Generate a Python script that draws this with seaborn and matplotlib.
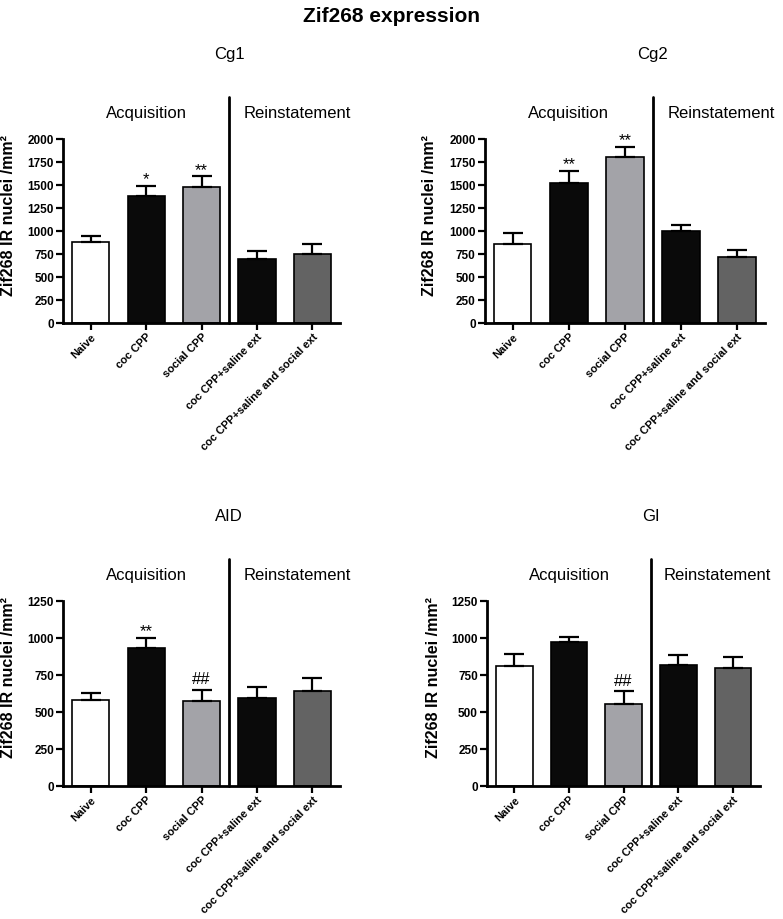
import numpy as np
import seaborn as sns
import matplotlib.pyplot as plt

sns.set_style("ticks")
plt.rcParams['font.family'] = ['Liberation Sans', 'DejaVu Sans']
plt.rcParams['text.color'] = 'black'
plt.rcParams['axes.labelcolor'] = 'black'
plt.rcParams['xtick.color'] = 'black'
plt.rcParams['ytick.color'] = 'black'

# groups and bar colours (same for all four regions)
groups = ["Naive", "coc CPP", "social CPP", "coc CPP+saline ext",
          "coc CPP+saline and social ext"]
bar_colors = ["#ffffff", "#0a0a0a", "#a3a3a8", "#0a0a0a", "#636363"]

# mean and SEM
cg1_mean = [879, 1381, 1483, 698, 749]
cg1_sem = [69, 113, 115, 87, 112]
cg1_marks = ["", "*", "**", "", ""]

cg2_mean = [861, 1526, 1805, 1005, 716]
cg2_sem = [123, 130, 115, 65, 83]
cg2_marks = ["", "**", "**", "", ""]

aid_mean = [585, 935, 577, 597, 646]
aid_sem = [46, 69, 74, 76, 88]
aid_marks = ["", "**", "##", "", ""]

gi_mean = [811, 975, 552, 820, 802]
gi_sem = [83, 34, 90, 65, 74]
gi_marks = ["", "", "##", "", ""]

fig = plt.figure(figsize=(7.83, 9.19), dpi=100)
fig.text(0.5, 1 - 16 / 919, "Zif268 expression", ha='center', va='center',
         fontsize=15, fontweight='bold')

panels = [
    ("Cg1", cg1_mean, cg1_sem, cg1_marks, 2000, [0.0805, 0.6485, 0.354, 0.200]),
    ("Cg2", cg2_mean, cg2_sem, cg2_marks, 2000, [0.619, 0.6485, 0.358, 0.200]),
    ("AID", aid_mean, aid_sem, aid_marks, 1250, [0.0805, 0.1447, 0.354, 0.201]),
    ("GI", gi_mean, gi_sem, gi_marks, 1250, [0.622, 0.1447, 0.349, 0.201]),
]

for name, mean, sem, marks, ymax, rect in panels:
    ax = fig.add_axes(rect)
    sns.barplot(x=groups, y=mean, hue=groups, palette=bar_colors, legend=False,
                edgecolor='black', linewidth=1.2, width=0.67, errorbar=None,
                saturation=1, ax=ax)
    x = np.arange(len(groups))
    ax.errorbar(x, mean, yerr=[np.zeros(len(mean)), sem], fmt='none',
                ecolor='black', elinewidth=1.6, capsize=7, capthick=1.6,
                zorder=1)

    # significance marks
    for xi, m, s, t in zip(x, mean, sem, marks):
        if not t:
            continue
        off = 4 if t.startswith('#') else 1
        ax.annotate(t, (xi, m + s), xytext=(0, off), textcoords='offset points',
                    ha='center', va='baseline', fontsize=12)

    ax.set_xlim(-0.5, 4.5)
    ax.set_ylim(0, ymax)
    ax.set_yticks(np.arange(0, ymax + 1, 250))
    ax.set_xticks(x)
    ax.set_xticklabels(groups, rotation=45, ha='right', va='top',
                       rotation_mode='anchor', fontsize=8, fontweight='bold')
    for lab in ax.get_yticklabels():
        lab.set_fontweight('bold')
        lab.set_fontsize(8.5)
    ax.set_ylabel("Zif268 IR nuclei /mm²", fontsize=11.5, fontweight='bold')
    ax.yaxis.set_label_coords(-0.17, 0.587)

    sns.despine(ax=ax)
    for sp in ['left', 'bottom']:
        ax.spines[sp].set_linewidth(2)
        ax.spines[sp].set_color('black')
    ax.tick_params(axis='both', width=1.6, length=5, color='black', pad=1.5)

    # divider between the two phases
    tr = ax.get_xaxis_transform()
    ax.plot([2.5, 2.5], [0, 1.23], transform=tr, color='black', lw=2,
            clip_on=False)
    ax.text(1.0, 1.14, "Acquisition", transform=tr, ha='center', va='center',
            fontsize=12)
    ax.text(3.72, 1.14, "Reinstatement", transform=tr, ha='center',
            va='center', fontsize=12)
    ax.text(2.5, 1.46, name, transform=tr, ha='center', va='center',
            fontsize=12)

fig.savefig("out.png", dpi=100)
